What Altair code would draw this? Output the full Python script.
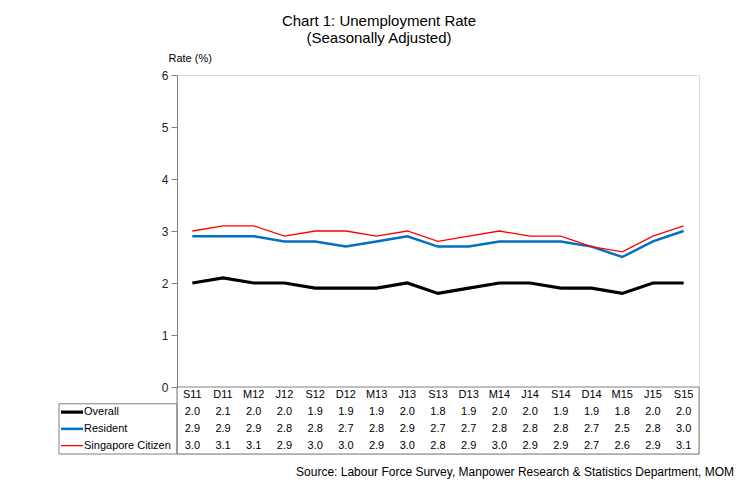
import altair as alt
import pandas as pd

categories = ["S11", "D11", "M12", "J12", "S12", "D12", "M13", "J13", "S13",
              "D13", "M14", "J14", "S14", "D14", "M15", "J15", "S15"]
overall = [2.0, 2.1, 2.0, 2.0, 1.9, 1.9, 1.9, 2.0, 1.8, 1.9, 2.0, 2.0, 1.9, 1.9, 1.8, 2.0, 2.0]
resident = [2.9, 2.9, 2.9, 2.8, 2.8, 2.7, 2.8, 2.9, 2.7, 2.7, 2.8, 2.8, 2.8, 2.7, 2.5, 2.8, 3.0]
citizen = [3.0, 3.1, 3.1, 2.9, 3.0, 3.0, 2.9, 3.0, 2.8, 2.9, 3.0, 2.9, 2.9, 2.7, 2.6, 2.9, 3.1]
series_names = ["Overall", "Resident", "Singapore Citizen"]
series_values = [overall, resident, citizen]
series_colors = ["#000000", "#0070C0", "#FF0000"]
series_widths = [3.2, 2.5, 1.3]
source_text = "Source: Labour Force Survey, Manpower Research & Statistics Department, MOM"
FONT = "Liberation Sans"

rows = []
for i, (name, vals) in enumerate(zip(series_names, series_values)):
    for c, v in zip(categories, vals):
        rows.append({"category": c, "series": name, "value": v, "row": i + 1})
df = pd.DataFrame(rows)
header_df = pd.DataFrame({"category": categories, "row": [0] * len(categories)})
legend_df = pd.DataFrame({"series": series_names, "row": [1, 2, 3]})

W, H = 522, 379
PLOT_H = 312

x_enc = alt.X("category:N", sort=categories,
              scale=alt.Scale(type="point", padding=0.5), axis=None)


def row_scale():
    return alt.Scale(domain=[-0.5, 3.5], range=[PLOT_H, H], nice=False, zero=False)


y_axis = alt.Axis(values=[0, 1, 2, 3, 4, 5, 6], grid=False, title="Rate (%)",
                  titleAngle=0, titleAlign="left", titleBaseline="middle",
                  titleX=-9, titleY=-17, titleFontSize=11, titleFontWeight="normal",
                  titleColor="#000000", titleFont=FONT,
                  domainColor="#808080", tickColor="#808080", tickSize=6,
                  labelFontSize=12, labelColor="#222222", labelPadding=3,
                  labelFont=FONT)

line_layers = []
for k, (name, col, sw) in enumerate(zip(series_names, series_colors, series_widths)):
    line_layers.append(
        alt.Chart(df[df["series"] == name]).mark_line(color=col, strokeWidth=sw).encode(
            x=x_enc,
            y=alt.Y("value:Q", scale=alt.Scale(domain=[0, 6], range=[PLOT_H, 0], nice=False),
                    axis=y_axis if k == 0 else None),
        )
    )

table_box = alt.Chart(header_df.head(1)).mark_rect(
    fill="transparent", stroke="#808080", strokeWidth=1).encode(
    x=alt.value(0), x2=alt.value(W),
    y=alt.Y(datum=-0.5, scale=row_scale(), axis=None), y2=alt.Y2(datum=3.5),
)

header_text = alt.Chart(header_df).mark_text(fontSize=11, font=FONT, color="#000000").encode(
    x=x_enc,
    y=alt.Y("row:Q", scale=row_scale(), axis=None),
    text="category:N",
)

value_text = alt.Chart(df).mark_text(fontSize=11, font=FONT, color="#000000").encode(
    x=x_enc,
    y=alt.Y("row:Q", scale=row_scale(), axis=None),
    text=alt.Text("value:Q", format=".1f"),
)

legend_box = alt.Chart(header_df.head(1)).mark_rect(
    fill="transparent", stroke="#808080", strokeWidth=1).encode(
    x=alt.value(-118), x2=alt.value(0),
    y=alt.Y(datum=0.5, scale=row_scale(), axis=None), y2=alt.Y2(datum=3.5),
)

swatches = []
for i, (name, col, sw) in enumerate(zip(series_names, series_colors, series_widths)):
    swatches.append(
        alt.Chart(legend_df[legend_df["series"] == name]).mark_rule(
            color=col, strokeWidth=sw).encode(
            x=alt.value(-116), x2=alt.value(-94),
            y=alt.Y("row:Q", scale=row_scale(), axis=None),
        )
    )

legend_text = alt.Chart(legend_df).mark_text(
    align="left", fontSize=11, font=FONT, color="#000000").encode(
    x=alt.value(-93),
    y=alt.Y("row:Q", scale=row_scale(), axis=None),
    text="series:N",
)

source = alt.Chart(pd.DataFrame({"t": [source_text]})).mark_text(
    align="right", baseline="middle", fontSize=12, font=FONT, color="#000000").encode(
    x=alt.value(W + 35), y=alt.value(H + 18), text="t:N",
)

chart = alt.layer(
    table_box, legend_box, *line_layers, header_text, value_text,
    *swatches, legend_text, source,
).resolve_scale(
    y="independent"
).properties(
    width=W, height=H,
    title=alt.TitleParams(["Chart 1: Unemployment Rate", "(Seasonally Adjusted)"],
                          fontSize=15, fontWeight="normal", font=FONT, color="#000000",
                          anchor="middle", frame="group", dx=-59, lineHeight=17, offset=6),
    autosize=alt.AutoSizeParams(type="none"),
    padding={"left": 169, "top": 67, "right": 35, "bottom": 30},
).configure_view(stroke=None).configure(background="white")

chart.save("out.html", embed_options={"renderer": "svg", "actions": False})
